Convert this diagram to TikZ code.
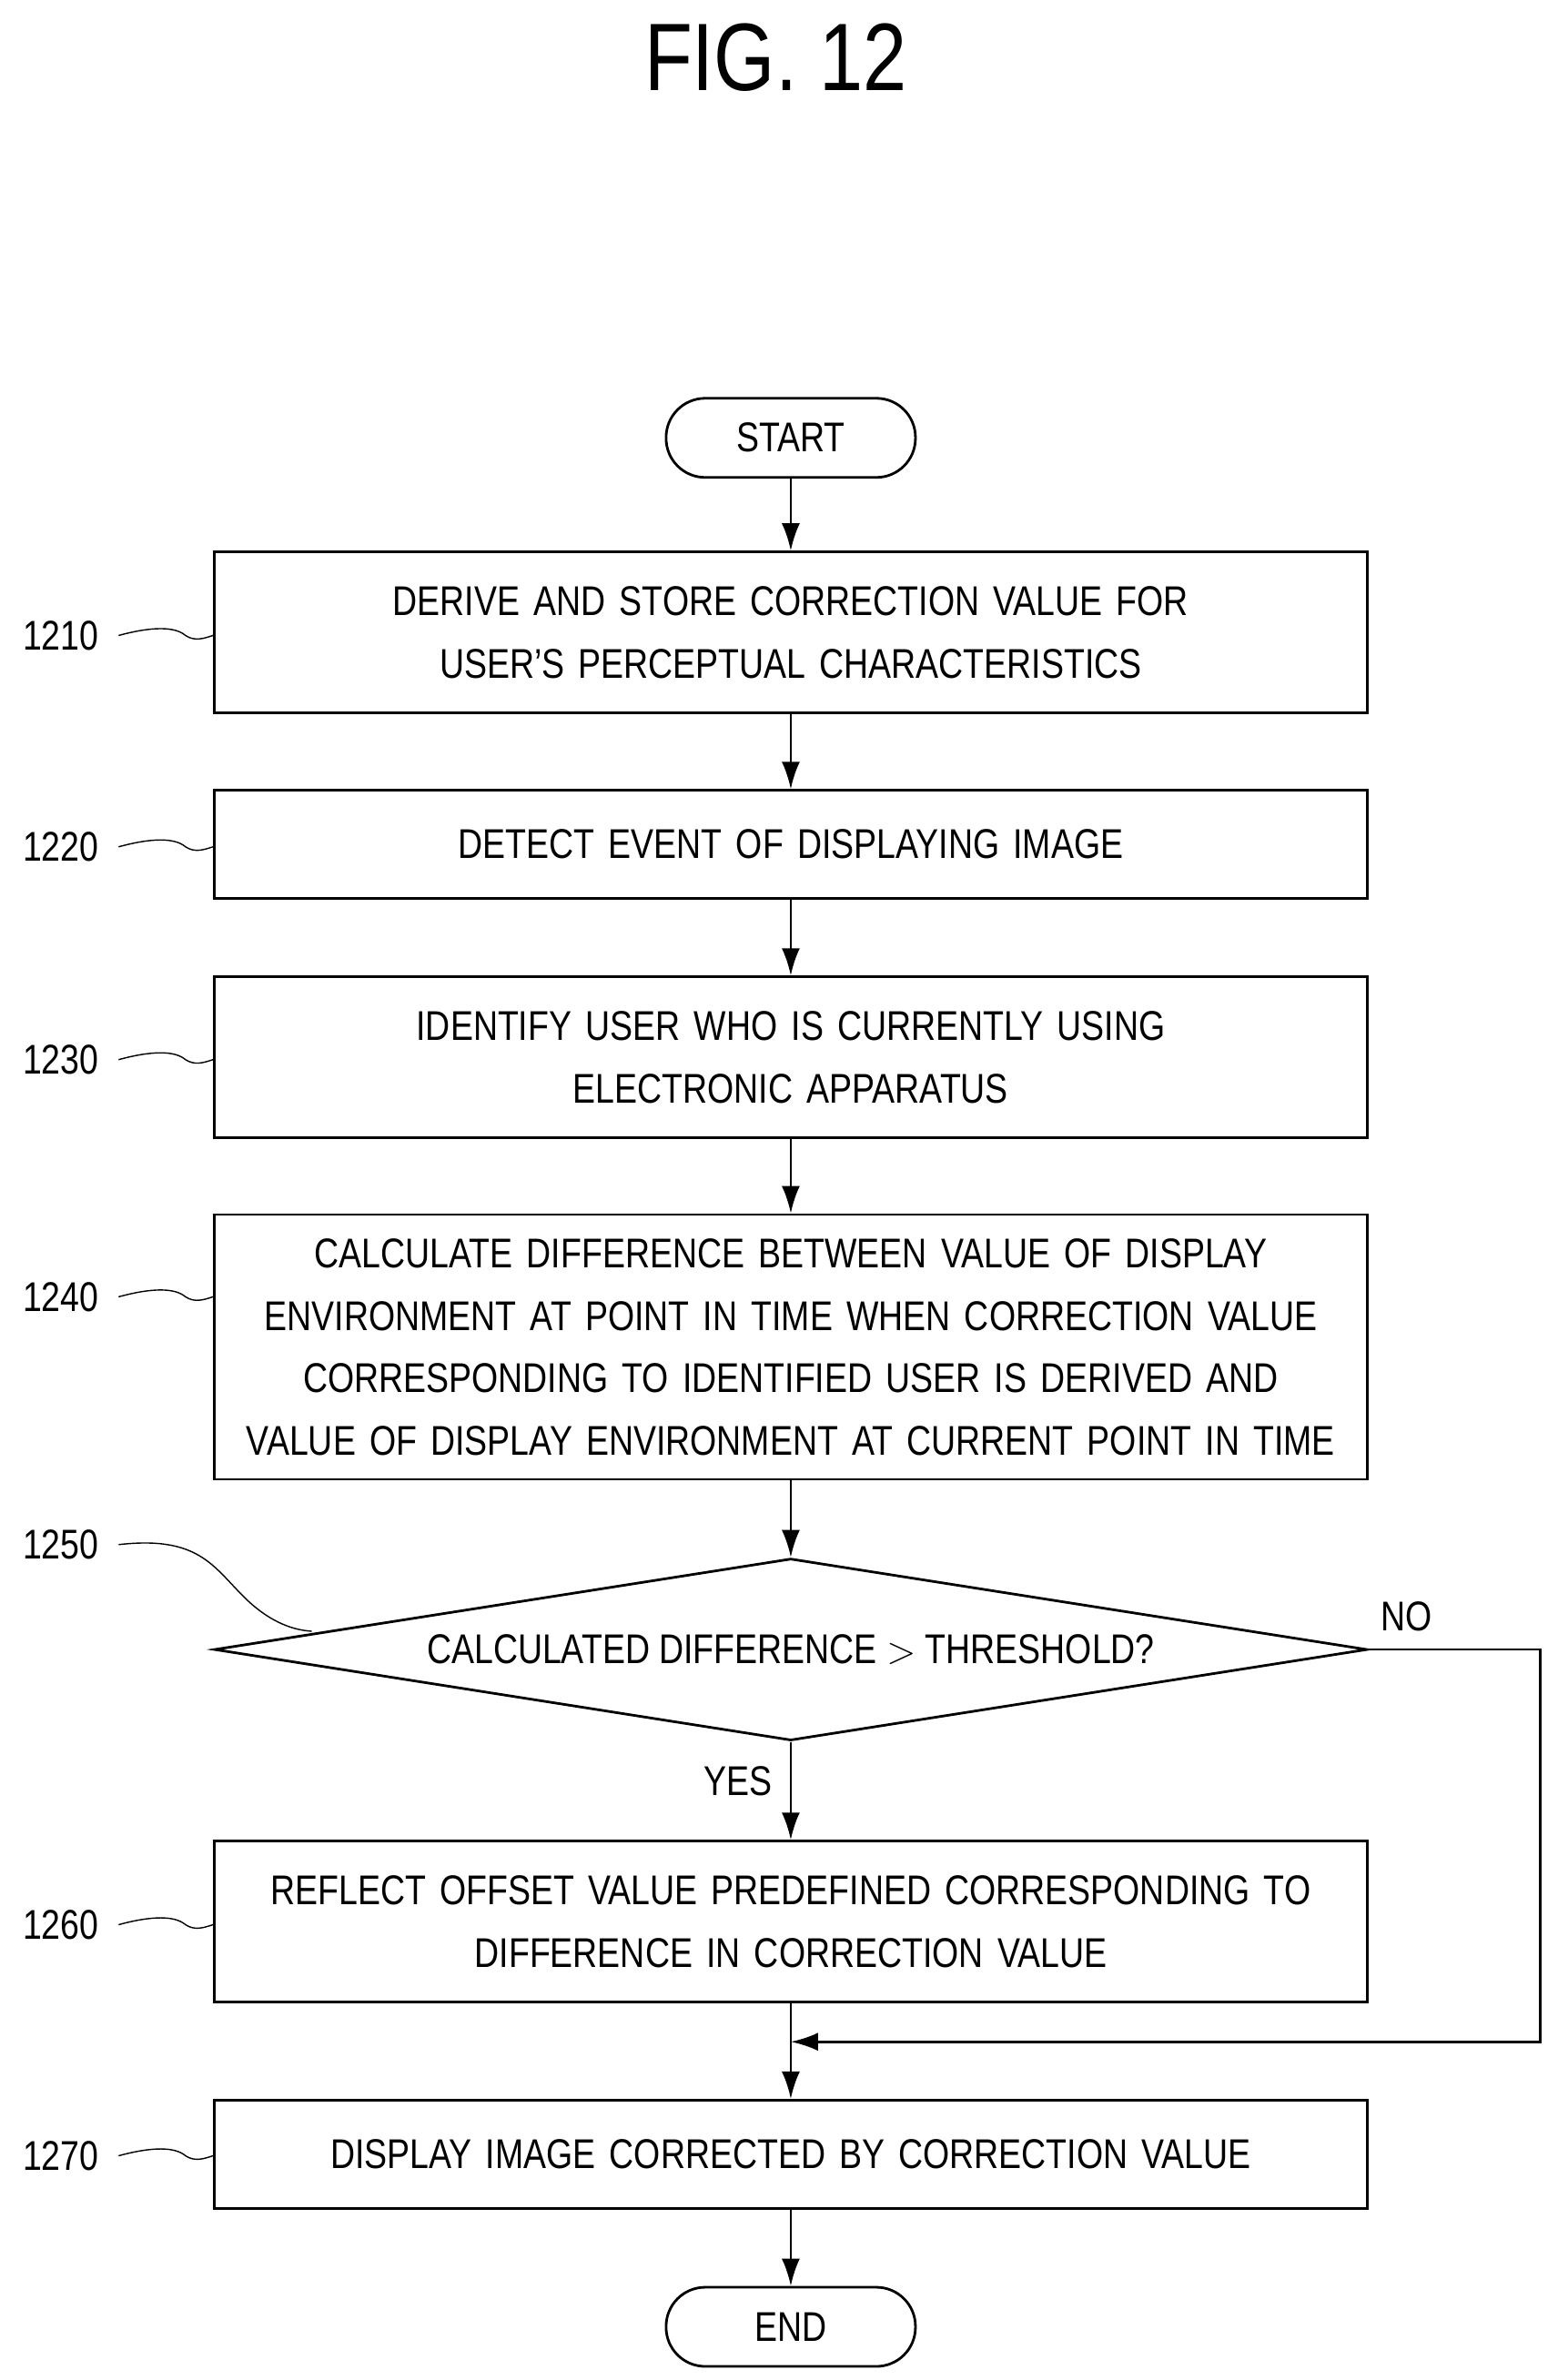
\documentclass[tikz,border=0pt]{standalone}
\usepackage{fontspec}
\setmainfont{Liberation Sans}[FakeStretch=0.82]
\usetikzlibrary{shapes.geometric,arrows.meta}
\tikzset{
  proc/.style={draw, thick, minimum width=126.7mm, text width=122mm, align=center, font=\fontsize{13}{19.5}\selectfont, inner sep=0pt},
  term/.style={draw, thick, rounded corners=4.3mm, minimum width=27.4mm, minimum height=8.7mm, font=\fontsize{13}{16}\selectfont},
  tag/.style={font=\fontsize{13}{16}\selectfont},
  flow/.style={thick, -{Latex[length=3mm,width=2mm]}}
}
\newcommand{\wiggle}[1]{\draw[thin] (78,#1) .. controls (100,#1-6) and (115,#1-6) .. (122,#1) .. controls (128,#1+4) and (134,#1+2) .. (140,#1);}
\begin{document}
\begin{tikzpicture}[x=0.1671mm, y=-0.1671mm]
  \useasboundingbox (0,0) rectangle (1024,1565.5);
  \node[font=\fontsize{30}{36}\selectfont] (title) at (510,38) {FIG. 12};
  \node[term] (start) at (520,288) {START};
  \node[proc, minimum height=17.7mm] (s1210) at (520,416) {DERIVE AND STORE CORRECTION VALUE FOR\\USER'S PERCEPTUAL CHARACTERISTICS};
  \node[proc, minimum height=11.9mm] (s1220) at (520,555.5) {DETECT EVENT OF DISPLAYING IMAGE};
  \node[proc, minimum height=17.7mm] (s1230) at (520,695.5) {IDENTIFY USER WHO IS CURRENTLY USING\\ELECTRONIC APPARATUS};
  \node[proc, minimum height=29.1mm] (s1240) at (520,886) {CALCULATE DIFFERENCE BETWEEN VALUE OF DISPLAY ENVIRONMENT AT POINT IN TIME WHEN CORRECTION VALUE CORRESPONDING TO IDENTIFIED USER IS DERIVED AND VALUE OF DISPLAY ENVIRONMENT AT CURRENT POINT IN TIME};
  \node[draw, thick, diamond, aspect=6.3, minimum width=126.7mm, minimum height=20mm, inner sep=0pt, font=\fontsize{13}{16}\selectfont] (s1250) at (520,1085) {CALCULATED DIFFERENCE $>$ THRESHOLD?};
  \node[proc, minimum height=17.7mm] (s1260) at (520,1264) {REFLECT OFFSET VALUE PREDEFINED CORRESPONDING TO\\DIFFERENCE IN CORRECTION VALUE};
  \node[proc, minimum height=11.9mm] (s1270) at (520,1417) {DISPLAY IMAGE CORRECTED BY CORRECTION VALUE};
  \node[term] (end) at (520,1530.5) {END};
  \coordinate (merge) at (520,1343);
  \coordinate (c1) at (1013,1085);
  \coordinate (c2) at (1013,1343);
  % connectors
  \draw[flow] (start) -- (s1210);
  \draw[flow] (s1210) -- (s1220);
  \draw[flow] (s1220) -- (s1230);
  \draw[flow] (s1230) -- (s1240);
  \draw[flow] (s1240) -- (s1250);
  \draw[flow] (s1250) -- node[tag, pos=0.4, left=2pt] {YES} (s1260);
  \draw[thick] (s1260) -- (merge);
  \draw[flow] (merge) -- (s1270);
  \draw[flow] (s1270) -- (end);
  \draw[flow] (s1250.east) -- (c1) -- (c2) -- (merge);
  \node[tag] (no) at (925,1063) {NO};
  % reference numbers
  \node[tag] (n1210) at (40,418) {1210};
  \node[tag] (n1220) at (40,557) {1220};
  \node[tag] (n1230) at (40,697) {1230};
  \node[tag] (n1240) at (40,853) {1240};
  \node[tag] (n1250) at (40,1016) {1250};
  \node[tag] (n1260) at (40,1266) {1260};
  \node[tag] (n1270) at (40,1418) {1270};
  \wiggle{418}
  \wiggle{557}
  \wiggle{697}
  \wiggle{853}
  \wiggle{1266}
  \wiggle{1418}
  \draw[thin] (78,1016) .. controls (130,1010) and (140,1030) .. (160,1050) .. controls (175,1065) and (190,1072) .. (205,1073);
\end{tikzpicture}
\end{document}
